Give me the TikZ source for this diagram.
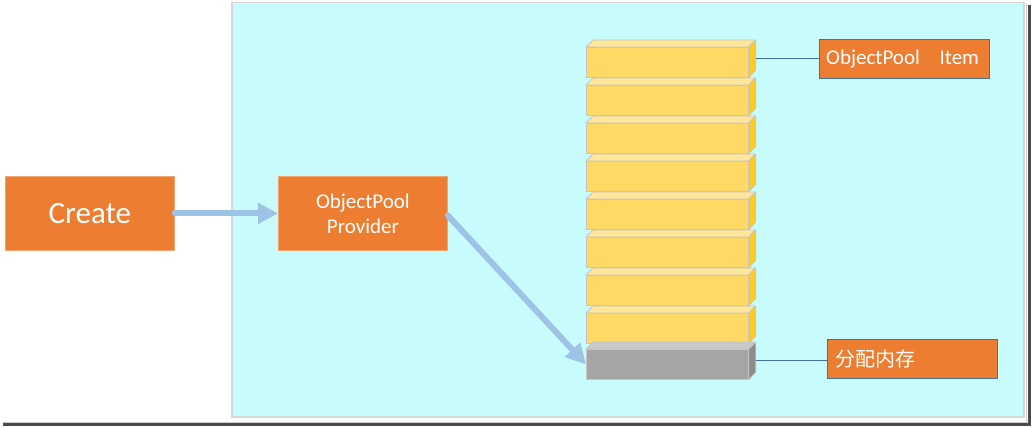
\documentclass[tikz,border=0pt]{standalone}
\usepackage{fontspec}
\setmainfont{Carlito}
\newfontfamily\cjk{Noto Sans CJK SC}
\usetikzlibrary{arrows.meta,calc}
\definecolor{panel}{HTML}{C8FCFC}
\definecolor{panelborder}{HTML}{D4D8DA}
\definecolor{orng}{HTML}{ED7D31}
\definecolor{arrowblue}{HTML}{9DC3E6}
\definecolor{linkblue}{HTML}{41719C}
\definecolor{yfront}{HTML}{FFD966}
\definecolor{ytop}{HTML}{FFE699}
\definecolor{yside}{HTML}{FFC926}
\definecolor{gfront}{HTML}{A5A5A5}
\definecolor{gtop}{HTML}{C9C9C9}
\definecolor{gside}{HTML}{8C8C8C}
\definecolor{edge}{HTML}{C6C6C6}
\begin{document}
\begin{tikzpicture}[x=1pt,y=-1pt,
  orangebox/.style={fill=orng, draw=orng!70!white, line width=0.8pt, text=white, inner sep=0pt},
  labelbox/.style={fill=orng, draw=linkblue, line width=1pt, text=white, inner sep=0pt,
    minimum width=170pt, minimum height=39pt, anchor=north west},
  flow/.style={draw=arrowblue, line width=6pt, line cap=round, -{Triangle[length=20pt,width=20pt]}},
  link/.style={draw=linkblue, line width=0.9pt},
  frontface/.style={draw=edge, line width=0.8pt, minimum width=162pt, minimum height=30pt, inner sep=0pt, anchor=north west},
  face/.style={draw=edge, line width=0.8pt, line join=round}
]
\useasboundingbox (0,0) rectangle (1033,428);
\fill[white] (0,0) rectangle (1033,428);
% screenshot shadow
\draw[gray!60!black, line width=3pt] (1029.5,5) -- (1029.5,425.5);
\draw[gray!60!black, line width=3pt] (3,424.5) -- (1031,424.5);
\draw[gray!40, line width=1pt] (1026.5,4) -- (1026.5,422) -- (3,422);
% panel
\node[fill=panel, draw=panelborder, line width=1.5pt, minimum width=792pt, minimum height=414pt, anchor=north west, inner sep=0pt] (panel) at (231,2) {};
% left boxes
\node[orangebox, minimum width=169pt, minimum height=74pt, anchor=north west, font=\fontsize{31}{36}\selectfont] (create) at (5,176) {Create};
\node[orangebox, minimum width=169pt, minimum height=74pt, anchor=north west, align=center, font=\fontsize{21}{25}\selectfont] (prov) at (278,176) {ObjectPool\\Provider};
% stack
\foreach \i in {0,...,7}{
  \pgfmathsetmacro\yt{47+38*\i}
  \node[frontface, fill=yfront] (b\i) at (586,\yt) {};
  \draw[face, fill=ytop] (b\i.north west) -- ++(7,-7) -- ++(162,0) -- (b\i.north east) -- cycle;
  \draw[face, fill=yside] (b\i.north east) -- ++(7,-7) -- ++(0,30) -- (b\i.south east) -- cycle;
}
\node[frontface, fill=gfront] (g) at (586,349) {};
\draw[face, fill=gtop] (g.north west) -- ++(7,-7) -- ++(162,0) -- (g.north east) -- cycle;
\draw[face, fill=gside] (g.north east) -- ++(7,-7) -- ++(0,30) -- (g.south east) -- cycle;
% labels
\node[labelbox] (item) at (819,39) {};
\node[anchor=west, text=white, font=\fontsize{21}{25}\selectfont, inner sep=0pt] (itemtxt) at ([xshift=7pt]item.west) {ObjectPool\hspace{15pt} Item};
\node[labelbox] (mem) at (827,339) {};
\node[anchor=west, text=white, font=\cjk\fontsize{20}{24}\selectfont, inner sep=0pt] (memtxt) at ([xshift=8pt]mem.west) {分配内存};
\coordinate (b0side) at ($(b0.east)+(7,-3.5)$);
\coordinate (gside) at ($(g.east)+(7,-4)$);
\draw[link] (b0side) -- (item.west |- b0side);
\draw[link] (gside) -- (mem.west |- gside);
% arrows
\draw[flow] (create.east) -- (prov.west);
\draw[flow] ([yshift=-2pt]prov.east) -- (g.west);
\end{tikzpicture}
\end{document}
